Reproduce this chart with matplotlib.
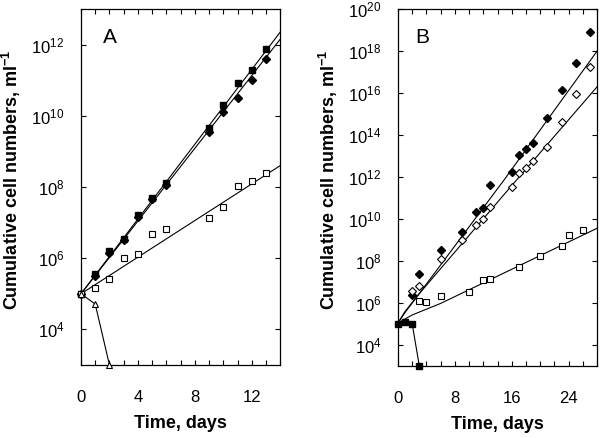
import numpy as np
import matplotlib
matplotlib.use("Agg")
from matplotlib import pyplot as plt
from matplotlib.ticker import MultipleLocator, NullLocator

plt.rcParams['font.family'] = ['Liberation Sans', 'DejaVu Sans']
plt.rcParams['mathtext.fontset'] = 'custom'
plt.rcParams['mathtext.rm'] = 'Liberation Sans'
plt.rcParams['mathtext.it'] = 'Liberation Sans:italic'
plt.rcParams['mathtext.bf'] = 'Liberation Sans:bold'

# panel A (days, log10 cells/ml)
a_days = [0, 1, 2, 3, 4, 5, 6, 9, 10, 11, 12, 13]
a_filled_sq = [5.0, 5.55, 6.2, 6.55, 7.2, 7.7, 8.1, 9.67, 10.3, 10.93, 11.29, 11.87]
a_filled_dia = [5.0, 5.5, 6.15, 6.5, 7.15, 7.65, 8.05, 9.54, 10.12, 10.49, 11.0, 11.59]
a_open_sq = [5.0, 5.15, 5.42, 6.0, 6.12, 6.68, 6.82, 7.12, 7.45, 8.03, 8.18, 8.38]
a_tri_days = [0, 1, 2]
a_tri = [5.0, 4.71, 3.0]
a_fit_days = [0, 14]
a_fit_sq = [5.0, 12.35]
a_fit_dia = [5.0, 12.15]
a_fit_open = [5.0, 8.6]

# panel B
b_dia_days = [2, 3, 6, 9, 11, 12, 13, 16, 17, 18, 19, 21, 23, 25, 27]
b_filled_dia = [6.38, 7.37, 8.52, 9.40, 10.32, 10.51, 11.62, 12.22, 13.05,
                13.33, 13.63, 14.82, 16.14, 17.44, 18.89]
b_open_dia = [6.59, 6.81, 8.08, 9.0, 9.72, 9.99, 10.57, 11.54, 12.18,
              12.44, 12.76, 13.44, 14.63, 15.94, 17.25]
b_sq_days = [3, 4, 6, 10, 12, 13, 17, 20, 23, 24, 26]
b_open_sq = [6.11, 6.06, 6.33, 6.54, 7.10, 7.14, 7.73, 8.24, 8.73, 9.24, 9.48]
b_dead_days = [0, 1, 2, 3]
b_dead = [5.0, 5.1, 5.0, 3.0]
b_fit_days = [0, 1, 3, 15, 28]
b_fit_filled = [5.05, 5.55, 6.45, 11.9, 18.0]
b_fit_open = [5.05, 5.6, 6.45, 11.2, 16.3]
b_fit_sq_days = [0, 2, 6, 28]
b_fit_sq = [5.05, 5.43, 5.98, 9.56]


def p(v):
    return 10.0 ** np.asarray(v)


def style_axes(ax, xmax, xmajor, xminor, ymin, ymax):
    ax.set_yscale('log')
    ax.set_xlim(0, xmax)
    ax.set_ylim(10.0 ** ymin, 10.0 ** ymax)
    ax.xaxis.set_major_locator(MultipleLocator(xmajor))
    ax.xaxis.set_minor_locator(MultipleLocator(xminor))
    exps = list(range(4, ymax + 1, 2))
    ax.set_yticks([10.0 ** k for k in exps])
    ax.set_yticklabels([f'10$^{{{k}}}$' for k in exps])
    ax.yaxis.set_minor_locator(NullLocator())
    ax.tick_params(which='both', direction='in', top=True, right=True,
                   length=3.5, width=0.8, labelsize=12)
    ax.tick_params(axis='y', pad=12)
    ax.tick_params(axis='x', which='both', pad=18)
    for s in ax.spines.values():
        s.set_linewidth(0.9)
    ax.set_xlabel('Time, days', fontsize=13, fontweight='bold')
    ax.set_ylabel(r'Cumulative cell numbers, ml$^{\mathbf{-1}}$',
                  fontsize=13, fontweight='bold')
    ax.yaxis.set_label_coords(-0.29, 0.52)
    ax.xaxis.set_label_coords(0.5, -0.14)


fig = plt.figure(figsize=(6.0, 4.38), dpi=100)
ax_a = fig.add_axes([0.135, 0.1667, 0.332, 0.8128])
ax_b = fig.add_axes([0.6633, 0.1644, 0.332, 0.8151])

lw = 0.8
mk = dict(linestyle='none', color='k', clip_on=False, zorder=3)

# --- A
ax_a.plot(a_fit_days, p(a_fit_sq), color='k', lw=lw)
ax_a.plot(a_fit_days, p(a_fit_dia), color='k', lw=lw)
ax_a.plot(a_fit_days, p(a_fit_open), color='k', lw=lw)
ax_a.plot(a_days, p(a_filled_dia), marker='D', ms=4, **mk)
ax_a.plot(a_days, p(a_filled_sq), marker='s', ms=5, **mk)
ax_a.plot(a_days, p(a_open_sq), marker='s', ms=5, mfc='white', mew=0.8, **mk)
ax_a.plot(a_tri_days, p(a_tri), color='k', lw=lw, marker='^', ms=5,
          mfc='white', mew=0.8, clip_on=False, zorder=4)
style_axes(ax_a, 14, 4, 1, 3, 13)
ax_a.text(0.11, 0.947, 'A', transform=ax_a.transAxes, fontsize=15,
          va='top', ha='left')

# --- B
ax_b.plot(b_fit_days, p(b_fit_filled), color='k', lw=lw)
ax_b.plot(b_fit_days, p(b_fit_open), color='k', lw=lw)
ax_b.plot(b_fit_sq_days, p(b_fit_sq), color='k', lw=lw)
ax_b.plot(b_dia_days, p(b_filled_dia), marker='D', ms=4, **mk)
ax_b.plot(b_dia_days, p(b_open_dia), marker='D', ms=4, mfc='white', mew=0.8, **mk)
ax_b.plot(b_sq_days, p(b_open_sq), marker='s', ms=5, mfc='white', mew=0.8, **mk)
ax_b.plot(b_dead_days, p(b_dead), color='k', lw=lw, marker='s', ms=5,
          clip_on=False, zorder=4)
style_axes(ax_b, 28, 8, 2, 3, 20)
ax_b.text(0.085, 0.947, 'B', transform=ax_b.transAxes, fontsize=15,
          va='top', ha='left')

fig.savefig('out.png', dpi=100)
